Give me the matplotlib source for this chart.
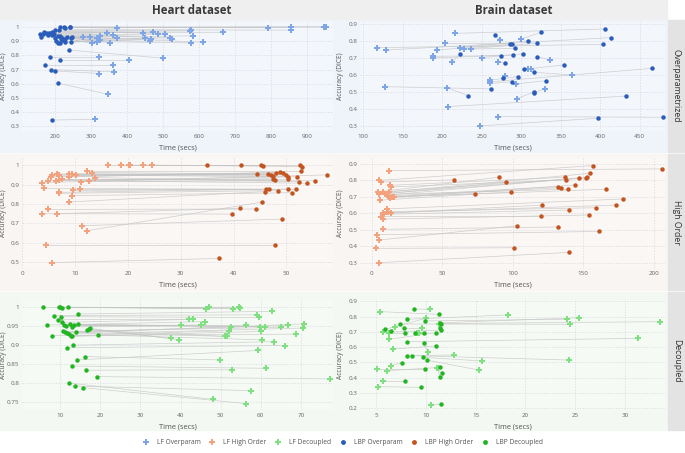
import matplotlib
matplotlib.use('Agg')
import matplotlib.pyplot as plt
from matplotlib.patches import Rectangle
from matplotlib.ticker import FuncFormatter, MultipleLocator
from matplotlib.lines import Line2D

plt.rcParams['font.family'] = ['Open Sans', 'DejaVu Sans']

# ---- Heart / Overparametrized
heart_over_lf_t = [370, 790, 854, 854, 946, 953, 573, 578, 665, 444, 472, 343, 361, 485, 506, 584, 324, 297, 278, 315,
                   370, 449, 467, 518, 523, 462, 324, 315, 301, 352, 577, 610, 499, 322, 404, 361, 364, 322, 346, 309]
heart_over_lf_acc = [0.99, 0.995, 1.0, 0.977, 1.0, 1.0, 0.971, 0.977, 0.962, 0.959, 0.962, 0.959, 0.944, 0.953, 0.948,
                     0.937, 0.937, 0.932, 0.932, 0.921, 0.921, 0.921, 0.914, 0.925, 0.914, 0.898, 0.905, 0.892, 0.883,
                     0.887, 0.887, 0.892, 0.78, 0.79, 0.77, 0.733, 0.684, 0.672, 0.526, 0.35]
heart_over_lbp_t = [223, 241, 212, 200, 227, 241, 191, 210, 175, 168, 182, 158, 197, 206, 161, 219, 243, 227, 219, 206,
                    212, 227, 243, 190, 200, 215, 232, 214, 180, 165, 201, 245, 237, 184, 212, 172, 188, 200, 206, 191]
heart_over_lbp_acc = [0.998, 1.0, 1.0, 0.98, 0.995, 0.998, 0.966, 0.975, 0.958, 0.966, 0.955, 0.948, 0.948, 0.937,
                      0.928, 0.925, 0.925, 0.914, 0.91, 0.887, 0.887, 0.892, 0.892, 0.94, 0.925, 0.918, 0.93, 0.935,
                      0.945, 0.952, 0.9, 0.93, 0.837, 0.79, 0.77, 0.733, 0.70, 0.69, 0.605, 0.345]

# ---- Brain / Overparametrized
brain_over_lf_t = [216, 117, 129, 204, 222, 228, 237, 300, 273, 193, 189, 189, 212, 250, 271, 337, 309, 313, 364, 280,
                   261, 261, 261, 293, 330, 128, 206, 295, 208, 271, 248]
brain_over_lf_acc = [0.845, 0.761, 0.747, 0.786, 0.761, 0.753, 0.753, 0.812, 0.806, 0.747, 0.71, 0.70, 0.678, 0.702,
                     0.678, 0.688, 0.635, 0.638, 0.60, 0.594, 0.57, 0.56, 0.55, 0.547, 0.518, 0.531, 0.525, 0.461,
                     0.414, 0.355, 0.30]
brain_over_lbp_t = [406, 404, 414, 288, 309, 320, 292, 325, 267, 286, 274, 290, 223, 302, 280, 320, 304, 354, 316, 277,
                    296, 466, 288, 332, 316, 262, 233, 316, 433, 479, 397]
brain_over_lbp_acc = [0.871, 0.78, 0.82, 0.783, 0.802, 0.786, 0.757, 0.851, 0.835, 0.78, 0.714, 0.718, 0.722, 0.724,
                      0.669, 0.708, 0.633, 0.659, 0.616, 0.58, 0.59, 0.639, 0.56, 0.567, 0.496, 0.518, 0.478, 0.50,
                      0.476, 0.351, 0.345]

# ---- Heart / High Order
heart_high_lf_t = [16.3, 18.7, 20.3, 20.5, 22.9, 24.5, 12.3, 13.3, 8.8, 9.5, 10.3, 8.8, 5.4, 5.6, 6.7, 7.0, 7.6, 6.4,
                   7.0, 5.0, 3.8, 11.1, 12.7, 13.8, 4.2, 7.0, 7.0, 9.6, 11.0, 9.4, 8.9, 5.0, 3.7, 6.7, 12.3, 11.3, 4.5, 5.7]
heart_high_lf_acc = [1.0, 1.0, 1.0, 1.0, 1.0, 1.0, 0.972, 0.962, 0.955, 0.952, 0.948, 0.94, 0.94, 0.948, 0.955, 0.95,
                     0.93, 0.92, 0.925, 0.92, 0.91, 0.915, 0.92, 0.936, 0.88, 0.86, 0.855, 0.87, 0.875, 0.843, 0.81,
                     0.772, 0.75, 0.75, 0.662, 0.688, 0.588, 0.498]
heart_high_lbp_t = [34.9, 41.5, 45.1, 45.5, 52.5, 53.0, 52.8, 44.5, 46.5, 47.0, 47.5, 48.0, 48.8, 49.3, 50.0, 50.2,
                    50.3, 47.5, 47.8, 52.0, 57.7, 55.4, 53.8, 52.4, 46.2, 46.7, 48.4, 50.3, 51.8, 51.0, 46.0, 44.3,
                    39.7, 41.2, 45.4, 49.2, 47.8, 37.2]
heart_high_lbp_acc = [1.0, 1.0, 1.0, 0.998, 1.0, 0.993, 0.972, 0.955, 0.952, 0.95, 0.945, 0.96, 0.963, 0.96, 0.95,
                      0.94, 0.93, 0.93, 0.922, 0.94, 0.95, 0.92, 0.907, 0.915, 0.876, 0.876, 0.869, 0.876, 0.876,
                      0.858, 0.864, 0.774, 0.748, 0.777, 0.81, 0.722, 0.588, 0.519]

# ---- Brain / High Order
brain_high_lf_t = [12.5, 5.4, 6.4, 4.3, 5.2, 13.0, 14.0, 7.8, 9.5, 10.6, 12.5, 5.9, 16.0, 11.5, 12.0, 10.0, 13.0, 14.5,
                   11.0, 13.5, 7.8, 9.0, 11.5, 6.6, 7.8, 8.3, 5.4, 3.5, 2.8, 5.2]
brain_high_lf_acc = [0.859, 0.80, 0.79, 0.73, 0.716, 0.77, 0.76, 0.73, 0.72, 0.71, 0.73, 0.68, 0.70, 0.705, 0.70,
                     0.715, 0.695, 0.70, 0.627, 0.604, 0.60, 0.594, 0.61, 0.58, 0.565, 0.503, 0.438, 0.47, 0.387, 0.30]
brain_high_lbp_t = [206, 157, 58.5, 90, 95, 137, 138, 147, 152, 153, 155, 73, 99, 132, 134, 139, 144, 166, 178, 173,
                    121, 140, 159, 120, 154, 132, 103, 161, 101, 140]
brain_high_lbp_acc = [0.87, 0.89, 0.803, 0.819, 0.789, 0.819, 0.803, 0.813, 0.815, 0.82, 0.843, 0.716, 0.728, 0.762,
                      0.756, 0.746, 0.772, 0.746, 0.687, 0.65, 0.65, 0.62, 0.634, 0.582, 0.59, 0.517, 0.525, 0.49,
                      0.391, 0.363]

# ---- Heart / Decoupled
heart_dec_lf_t = [47.0, 46.4, 53.2, 54.5, 54.9, 62.8, 59.0, 59.6, 42.2, 43.1, 46.2, 40.2, 45.2, 52.6, 56.4, 59.7, 61.0,
                  65.1, 66.7, 70.8, 70.5, 52.2, 60.0, 68.9, 51.1, 51.6, 37.7, 39.7, 60.3, 63.4, 66.1, 49.9, 59.3, 61.3,
                  52.9, 77.2, 48.2, 57.6, 56.3]
heart_dec_lf_acc = [1.0, 0.996, 0.996, 1.0, 0.998, 0.989, 0.98, 0.973, 0.968, 0.968, 0.962, 0.953, 0.953, 0.949, 0.952,
                    0.949, 0.949, 0.947, 0.952, 0.956, 0.945, 0.938, 0.936, 0.929, 0.923, 0.923, 0.918, 0.914, 0.914,
                    0.909, 0.899, 0.861, 0.886, 0.839, 0.835, 0.811, 0.757, 0.78, 0.746]
heart_dec_lbp_t = [5.7, 9.6, 10.0, 10.4, 11.9, 14.4, 8.5, 10.2, 9.4, 10.4, 6.7, 11.0, 11.5, 12.5, 12.9, 13.5, 14.4,
                   10.8, 11.2, 11.7, 12.1, 12.8, 13.0, 7.9, 13.9, 16.7, 17.1, 17.5, 19.4, 13.3, 11.7, 16.2, 14.2, 12.9,
                   16.4, 19.1, 12.3, 13.7, 15.7]
heart_dec_lbp_acc = [1.0, 1.0, 1.0, 0.999, 1.0, 0.982, 0.978, 0.975, 0.967, 0.96, 0.953, 0.953, 0.951, 0.955, 0.948,
                     0.953, 0.955, 0.936, 0.934, 0.932, 0.929, 0.925, 0.923, 0.925, 0.934, 0.94, 0.942, 0.944, 0.927,
                     0.90, 0.893, 0.87, 0.861, 0.845, 0.834, 0.817, 0.80, 0.792, 0.788]

# ---- Brain / Decoupled
brain_dec_lf_t = [10.4, 5.4, 18.2, 24.2, 25.4, 33.5, 24.5, 10.0, 6.9, 9.6, 11.3, 5.7, 6.3, 9.1, 9.3, 6.3, 31.3, 10.2,
                  6.7, 12.8, 24.4, 15.6, 15.3, 6.5, 6.1, 5.1, 11.1, 11.2, 5.7, 5.2, 10.5]
brain_dec_lf_acc = [0.848, 0.833, 0.811, 0.783, 0.793, 0.767, 0.75, 0.789, 0.73, 0.724, 0.75, 0.698, 0.695, 0.695,
                    0.695, 0.652, 0.658, 0.571, 0.588, 0.549, 0.516, 0.51, 0.451, 0.479, 0.446, 0.457, 0.462, 0.462,
                    0.381, 0.342, 0.222]
brain_dec_lbp_t = [8.8, 11.3, 8.1, 9.9, 11.4, 11.5, 7.4, 5.9, 6.5, 7.8, 11.4, 11.5, 7.9, 8.9, 9.8, 11.0, 8.1, 9.8,
                   11.0, 8.1, 8.6, 9.7, 10.1, 7.6, 11.4, 9.9, 11.6, 11.4, 7.9, 9.5, 11.5]
brain_dec_lbp_acc = [0.85, 0.815, 0.783, 0.772, 0.76, 0.755, 0.752, 0.717, 0.706, 0.724, 0.725, 0.712, 0.695, 0.695,
                     0.695, 0.695, 0.636, 0.625, 0.608, 0.545, 0.545, 0.534, 0.516, 0.499, 0.468, 0.457, 0.429, 0.407,
                     0.381, 0.337, 0.226]

row_names = ['Overparametrized', 'High Order', 'Decoupled']
col_names = ['Heart dataset', 'Brain dataset']
legend_names = ['LF Overparam', 'LF High Order', 'LF Decoupled', 'LBP Overparam', 'LBP High Order', 'LBP Decoupled']

lf_colors = ['#7ea6e6', '#f4a27e', '#7fe07f']
lbp_colors = ['#2a5cba', '#c4541f', '#22b522']
band_colors = ['#eff3fa', '#f9f5f2', '#f3f8f2']
face_colors = ['#f3f6fb', '#faf7f5', '#f6faf5']

panels = [
    [(heart_over_lf_t, heart_over_lf_acc, heart_over_lbp_t, heart_over_lbp_acc),
     (brain_over_lf_t, brain_over_lf_acc, brain_over_lbp_t, brain_over_lbp_acc)],
    [(heart_high_lf_t, heart_high_lf_acc, heart_high_lbp_t, heart_high_lbp_acc),
     (brain_high_lf_t, brain_high_lf_acc, brain_high_lbp_t, brain_high_lbp_acc)],
    [(heart_dec_lf_t, heart_dec_lf_acc, heart_dec_lbp_t, heart_dec_lbp_acc),
     (brain_dec_lf_t, brain_dec_lf_acc, brain_dec_lbp_t, brain_dec_lbp_acc)],
]

# axis setup per panel: xlim, xstep, ylim, ystep
axis_cfg = [
    [((107, 972), 100, (0.268, 1.034), 0.1), ((96, 482), 50, (0.27, 0.912), 0.1)],
    [((0, 58.8), 10, (0.47, 1.037), 0.1), ((-8.3, 208), 50, (0.268, 0.936), 0.1)],
    [((0.5, 78), 10, (0.729, 1.019), 0.05), ((3.4, 34), 5, (0.189, 0.909), 0.1)],
]

W, H = 685, 453
fig = plt.figure(figsize=(6.85, 4.53), dpi=100)
fig.patch.set_facecolor('white')

def fx(px):
    return px / W

def fy(px):
    return 1 - px / H

# title band and row bands (behind the axes)
fig.patches.append(Rectangle((0, fy(20)), fx(667), 20 / H, transform=fig.transFigure, color='#efefef', zorder=-5))
row_bands = [(20, 152), (154, 290), (292, 430)]
for r, (t, b) in enumerate(row_bands):
    fig.patches.append(Rectangle((0, fy(b)), fx(667), (b - t) / H, transform=fig.transFigure,
                                 color=band_colors[r], zorder=-5))
    fig.patches.append(Rectangle((fx(668), fy(b)), fx(17), (b - t) / H, transform=fig.transFigure,
                                 color='#e3e3e3', zorder=-5))
    fig.text(fx(676.5), fy((t + b) / 2), row_names[r], rotation=-90, ha='center', va='center',
             fontsize=6.2, color='#333333')

fig.text(fx(192), fy(11), col_names[0], ha='center', va='center', fontsize=8.3, fontweight='bold', color='#3a3a3a')
fig.text(fx(514), fy(11), col_names[1], ha='center', va='center', fontsize=8.3, fontweight='bold', color='#3a3a3a')

row_px = [(22, 131), (158, 268), (300, 410)]
col_px = [(22, 333), (360, 665)]
ylabel_px = [7, 344]

fmt = FuncFormatter(lambda v, p: ('%.2f' % v).rstrip('0').rstrip('.'))

for r in range(3):
    for c in range(2):
        t, b = row_px[r]
        l, rr = col_px[c]
        ax = fig.add_axes([fx(l), fy(b), fx(rr - l), (b - t) / H])
        ax.set_facecolor(face_colors[r])
        lf_t, lf_acc, lbp_t, lbp_acc = panels[r][c]
        for i in range(len(lf_t)):
            ax.plot([lf_t[i], lbp_t[i]], [lf_acc[i], lbp_acc[i]], color='#c4c4c4', lw=0.5, alpha=0.8, zorder=1)
        ax.plot(lf_t, lf_acc, 'P', ms=3.8, color=lf_colors[r], mew=0, zorder=3)
        ax.plot(lbp_t, lbp_acc, 'o', ms=3.2, color=lbp_colors[r], mew=0, zorder=3)
        xl, xs, yl, ys = axis_cfg[r][c]
        ax.set_xlim(xl)
        ax.set_ylim(yl)
        ax.xaxis.set_major_locator(MultipleLocator(xs))
        ax.yaxis.set_major_locator(MultipleLocator(ys))
        ax.yaxis.set_major_formatter(fmt)
        ax.grid(True, color='#d5d9e0', lw=0.5, ls=(0, (2, 2)))
        ax.set_axisbelow(True)
        for s in ax.spines.values():
            s.set_visible(False)
        ax.tick_params(length=0, labelsize=4.5, labelcolor='#666666', pad=2)
        ax.set_xlabel('Time (secs)', fontsize=5.3, color='#555555', labelpad=4)
        ax.set_ylabel('Accuracy (DICE)', fontsize=4.8, color='#555555')
        ax.yaxis.set_label_coords((ylabel_px[c] - l) / (rr - l), 0.5)

handles = []
for k in range(3):
    handles.append(Line2D([], [], ls='', marker='P', ms=4, mew=0, color=lf_colors[k]))
for k in range(3):
    handles.append(Line2D([], [], ls='', marker='o', ms=3.5, mew=0, color=lbp_colors[k]))
leg = fig.legend(handles, legend_names, loc='center', bbox_to_anchor=(0.5, fy(443)), ncol=6, frameon=False,
                 fontsize=4.8, handletextpad=1.05, columnspacing=1.15, handlelength=1.2)
for txt in leg.get_texts():
    txt.set_color('#555555')

fig.savefig('out.png', dpi=100)
